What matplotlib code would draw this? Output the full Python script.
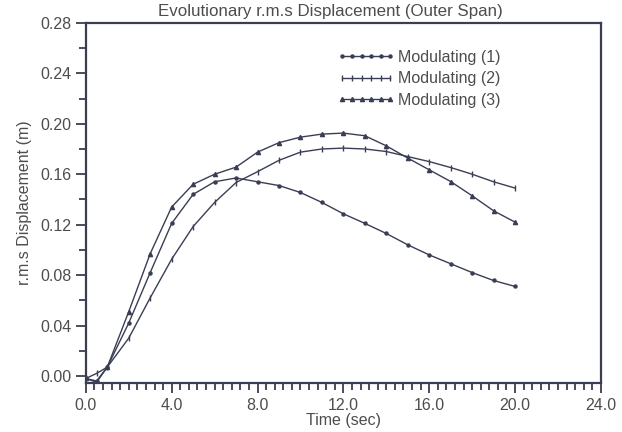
import numpy as np
import matplotlib
matplotlib.use('Agg')
import matplotlib.pyplot as plt
from matplotlib.ticker import MultipleLocator, FormatStrFormatter

# time (sec)
t = [0.0, 0.5, 1, 2, 3, 4, 5, 6, 7, 8, 9, 10, 11, 12, 13, 14, 15, 16, 17, 18, 19, 20]

# r.m.s displacement (m)
mod1 = [-0.002, -0.004, 0.007, 0.042, 0.082, 0.121, 0.144, 0.154, 0.157, 0.154, 0.151,
        0.1455, 0.1376, 0.1286, 0.121, 0.113, 0.104, 0.096, 0.089, 0.082, 0.0757, 0.071]
mod2 = [-0.002, 0.002, 0.007, 0.030, 0.062, 0.0926, 0.1185, 0.1376, 0.1534, 0.162, 0.171,
        0.1775, 0.180, 0.1807, 0.180, 0.178, 0.174, 0.170, 0.1653, 0.160, 0.154, 0.149]
mod3 = [-0.002, -0.005, 0.007, 0.051, 0.097, 0.134, 0.152, 0.160, 0.1656, 0.1775, 0.185,
        0.1894, 0.1918, 0.1926, 0.1905, 0.1825, 0.1728, 0.1635, 0.1542, 0.1429, 0.131, 0.122]

labels = ['Modulating (1)', 'Modulating (2)', 'Modulating (3)']

ink = '#3a3e55'
txt = '#4d4d4d'
plt.rcParams['font.family'] = ['Liberation Sans', 'DejaVu Sans']

fig = plt.figure(figsize=(6.22, 4.32), dpi=100)
ax = fig.add_axes([0.138, 0.1134, 0.828, 0.8336])

ax.plot(t, mod1, color=ink, lw=1.0, marker='o', ms=2.2, label=labels[0])
ax.plot(t, mod2, color=ink, lw=1.0, marker='|', ms=4.5, mew=1.0, label=labels[1])
ax.plot(t, mod3, color=ink, lw=1.0, marker='^', ms=3.0, label=labels[2])

ax.set_xlim(0, 24)
ax.set_ylim(-0.0056, 0.28)
ax.xaxis.set_major_locator(MultipleLocator(4))
ax.xaxis.set_minor_locator(MultipleLocator(0.4))
ax.yaxis.set_major_locator(MultipleLocator(0.04))
ax.yaxis.set_minor_locator(MultipleLocator(0.02))
ax.xaxis.set_major_formatter(FormatStrFormatter('%.1f'))
ax.yaxis.set_major_formatter(FormatStrFormatter('%.2f'))

for s in ax.spines.values():
    s.set_color(ink)
    s.set_linewidth(1.6)
ax.tick_params(which='both', direction='out', color=ink, width=1.3,
               labelsize=11.5, labelcolor=txt, top=False, right=False)
ax.tick_params(which='major', length=7)
ax.tick_params(which='minor', length=5)

ax.set_title('Evolutionary r.m.s Displacement (Outer Span)', fontsize=12.2, color=txt,
             pad=5, x=0.475)
ax.set_xlabel('Time (sec)', fontsize=11.5, color=txt, labelpad=0)
ax.set_ylabel('r.m.s Displacement (m)', fontsize=11.5, color=txt, labelpad=6)

leg = ax.legend(loc='upper left', bbox_to_anchor=(0.489, 0.925), frameon=False,
                numpoints=6, handlelength=3.6, handletextpad=0.2, labelspacing=0.4,
                borderaxespad=0, borderpad=0, fontsize=11.5)
for tx in leg.get_texts():
    tx.set_color(txt)

fig.savefig('out.png', dpi=100)
